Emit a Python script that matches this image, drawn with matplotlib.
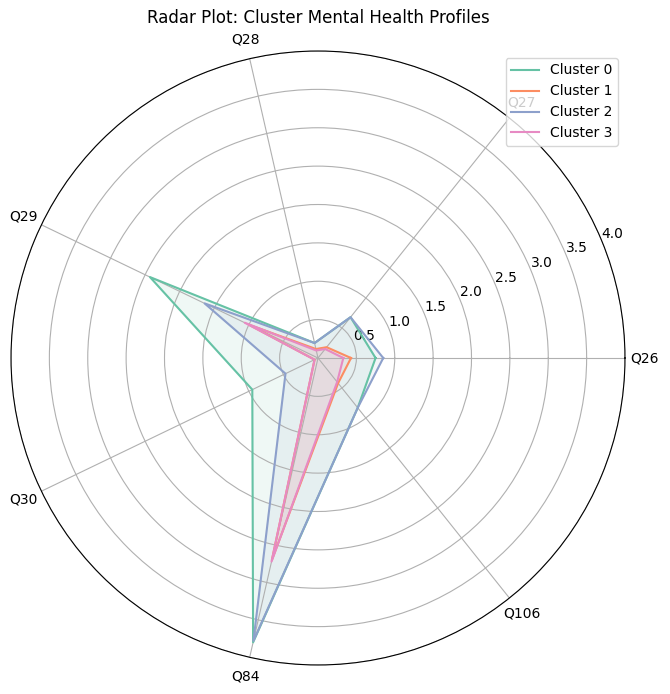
import numpy as np
import matplotlib.pyplot as plt

labels = ['Q26', 'Q27', 'Q28', 'Q29', 'Q30', 'Q84', 'Q106']
clusters = ['Cluster 0', 'Cluster 1', 'Cluster 2', 'Cluster 3']
c0 = [0.75, 0.68, 0.2, 2.43, 0.95, 3.8, 0.83]
c1 = [0.43, 0.18, 0.12, 1.0, 0.05, 2.7, 0.42]
c2 = [0.85, 0.68, 0.2, 1.64, 0.47, 3.78, 0.83]
c3 = [0.33, 0.15, 0.1, 1.06, 0.05, 2.72, 0.4]
series = [c0, c1, c2, c3]
colors = ['#66c2a5', '#fc8d62', '#8da0cb', '#e78ac3']

angles = np.linspace(0, 2*np.pi, len(labels), endpoint=False).tolist()
angles += angles[:1]

fig = plt.figure(figsize=(6.7, 6.94), dpi=100)
ax = fig.add_axes([11/670, 29/694, 614/670, 614/694], polar=True)
for name, vals, col in zip(clusters, series, colors):
    v = vals + vals[:1]
    ax.plot(angles, v, color=col, label=name, linewidth=1.5)
    ax.fill(angles, v, color=col, alpha=0.1)
ax.set_xticks(angles[:-1])
ax.set_xticklabels(labels)
ax.set_ylim(0, 4)
ax.set_yticks([0.5, 1.0, 1.5, 2.0, 2.5, 3.0, 3.5, 4.0])
ax.set_title('Radar Plot: Cluster Mental Health Profiles', pad=20)
ax.legend(loc='upper right', bbox_to_anchor=(1.0, 1.0))
fig.savefig('out.png', dpi=100)
